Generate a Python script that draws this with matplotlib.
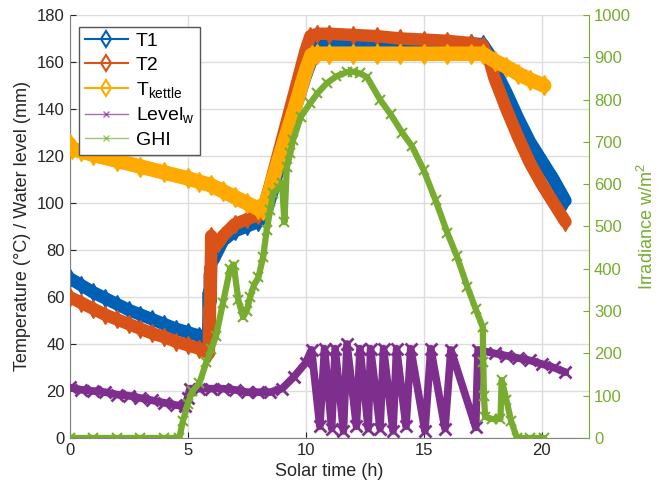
import numpy as np
import matplotlib
matplotlib.use("Agg")
import matplotlib.pyplot as plt
from matplotlib.lines import Line2D

plt.rcParams['font.family'] = ['Liberation Sans', 'DejaVu Sans']
plt.rcParams['mathtext.default'] = 'regular'

# T1 (blue)
t1_time = [0, 0.5, 1, 1.5, 2, 2.5, 3, 3.5, 4, 4.5, 5, 5.5, 5.85, 5.88, 5.9, 5.92, 5.95, 5.97,
           6.0, 6.1, 6.3, 6.5, 7.0, 7.5, 8.0, 8.3, 8.6, 9.0, 9.5, 10.0, 10.3, 10.5, 11, 12, 13,
           14, 15, 16, 17, 17.5, 17.8, 18.0, 18.5, 19.0, 19.5, 20.0, 20.5, 21.0]
t1_vals = [68, 65, 62, 59.5, 57, 54.5, 52.5, 50.5, 48.5, 46.5, 45, 43.5, 42, 48, 62, 52, 70, 58,
           78, 76, 80, 84, 88, 90, 92, 95, 105, 120, 138, 154, 162, 167.5, 168, 168, 168,
           168, 168, 168, 168, 167.5, 163, 157, 147, 136, 126, 118, 110, 101]

# T2 (orange-red)
t2_time = [0, 0.5, 1, 1.5, 2, 2.5, 3, 3.5, 4, 4.5, 5, 5.5, 5.9, 5.92, 5.94, 5.96, 5.98,
           6.0, 6.1, 6.3, 6.5, 7.0, 7.5, 8.0, 8.2, 8.5, 9.0, 9.5, 10.0, 10.2, 10.5, 11, 12,
           13, 14, 15, 16, 17, 17.5, 17.8, 18.0, 18.5, 19.0, 19.5, 20.0, 20.5, 21.0]
t2_vals = [60, 57.5, 55, 52.5, 50.5, 48.5, 46.5, 44.5, 43, 41, 39.5, 38, 36, 55, 45, 72, 60,
           86, 82, 83, 86, 91, 93, 95, 97, 108, 127, 146, 165, 171, 172, 172, 171.5,
           171, 170, 169.5, 169, 168, 167, 160, 153, 140, 128, 117, 108, 100, 92]

# T kettle (yellow)
tk_time = [0, 0.1, 0.5, 1, 2, 3, 4, 5, 5.5, 6.0, 6.5, 7.0, 7.5, 8.0, 8.2, 8.5, 9.0, 9.5,
           10.0, 10.25, 10.5, 11, 12, 13, 14, 15, 16, 17, 17.5, 18, 18.5, 19, 19.5, 20.1]
tk_vals = [125, 123, 122, 120.5, 118, 115.5, 113, 110.5, 109, 107.5, 105, 102.5, 100, 97.5,
           97, 106, 123, 139, 156, 163, 163.5, 163.5, 163.5, 163.5, 163.5, 163.5, 163.5,
           163.5, 163.5, 160.5, 158, 155, 152.5, 150]

# Water level (purple)
lv_time = [0, 0.5, 1, 1.5, 2, 2.5, 3, 3.5, 4, 4.5, 4.9, 5.0, 5.1, 5.5, 6, 6.5, 7, 7.5, 8, 8.5,
           9, 9.5, 10, 10.25, 10.6, 10.8, 11.1, 11.25, 11.6, 11.75, 12.15, 12.3, 12.65, 12.75,
           13.15, 13.3, 13.7, 13.85, 14.25, 14.45, 15.05, 15.3, 15.9, 16.15, 17.2, 17.3,
           18, 18.5, 19, 19.5, 20, 20.5, 21]
lv_vals = [21.5, 20.5, 20, 19.5, 18.5, 18, 17, 16, 15, 14, 13.5, 17, 21, 21, 21, 21, 20.5,
           19.5, 19.5, 19.5, 21, 26, 32, 37.5, 5, 38, 4, 38, 3, 40, 5, 38, 4, 38,
           4, 38, 3, 38, 5, 38, 3, 38, 4, 37.5, 4.5, 37.5,
           36, 35, 34, 33, 31.5, 30, 28]

# GHI (green, right axis)
ghi_time = [0, 1, 2, 3, 4, 4.65, 4.8, 5.0, 5.2, 5.5, 5.8, 6.0, 6.2, 6.5, 6.8, 6.95, 7.15,
            7.35, 7.5, 7.65, 7.8, 8.0, 8.2, 8.35, 8.5, 8.63, 8.85, 9.0, 9.1, 9.2, 9.35, 9.47,
            9.8, 10.2, 10.5, 10.9, 11.3, 11.75, 12.0, 12.3, 12.6, 13.15, 13.6, 14.1, 14.5,
            15.0, 15.5, 16.0, 16.4, 16.85, 17.2, 17.5, 17.52, 17.55, 17.6, 17.9, 18.25,
            18.3, 18.5, 18.7, 18.95, 19.5, 20.1]
ghi_vals = [0, 0, 0, 0, 0, 0, 40, 80, 110, 130, 180, 210, 240, 320, 400, 410, 326,
            286, 300, 333, 360, 380, 428, 492, 540, 579, 590, 603, 510, 640, 673, 705,
            760, 792, 815, 839, 855, 865, 866, 862, 853, 800, 765, 721, 690,
            633, 562, 485, 430, 357, 305, 262, 180, 100, 50, 45, 45,
            137, 90, 40, 0, 0, 0]

c_t1 = '#0060B5'
c_t2 = '#D95319'
c_tk = '#FFAA00'
c_lv = '#7E2F8E'
c_ghi = '#77AC30'
dark = '#262626'

fig = plt.figure(figsize=(6.64, 4.88), dpi=100)
ax = fig.add_axes([0.1047, 0.1025, 0.7824, 0.8668])

ax.plot(t1_time, t1_vals, color=c_t1, lw=9, solid_joinstyle='round', solid_capstyle='round',
        marker='d', ms=9, mew=1, zorder=2)
ax.plot(t2_time, t2_vals, color=c_t2, lw=9, solid_joinstyle='round', solid_capstyle='round',
        marker='d', ms=9, mew=1, zorder=3)
ax.plot(tk_time, tk_vals, color=c_tk, lw=10.5, solid_joinstyle='round', solid_capstyle='round',
        marker='d', ms=10, mew=1, zorder=4)
ax.plot(lv_time, lv_vals, color=c_lv, lw=5.5, solid_joinstyle='round', solid_capstyle='round',
        marker='x', ms=8, mew=2, zorder=5)

ax.set_xlim(0, 22)
ax.set_ylim(0, 180)
ax.set_xticks([0, 5, 10, 15, 20])
ax.set_yticks(np.arange(0, 181, 20))
ax.grid(True, color='#dcdcdc', lw=1)
ax.set_axisbelow(True)
ax.tick_params(direction='in', length=4, labelsize=12, colors=dark)
ax.set_xlabel('Solar time (h)', fontsize=13, color=dark)
ax.set_ylabel('Temperature (°C) / Water level (mm)', fontsize=13, color=dark)
for s in ['left', 'bottom']:
    ax.spines[s].set_color('#808080')
ax.spines['top'].set_visible(False)
ax.spines['right'].set_visible(False)

ax2 = ax.twinx()
ax2.plot(ghi_time, ghi_vals, color=c_ghi, lw=4.5, solid_joinstyle='round', solid_capstyle='round',
         marker='x', ms=7, mew=1.5, zorder=6)
ax2.set_ylim(0, 1000)
ax2.set_yticks(np.arange(0, 1001, 100))
ax2.tick_params(direction='in', length=4, labelsize=12, colors=c_ghi)
ax2.set_ylabel('Irradiance w/m$^2$', fontsize=13, color=c_ghi)
ax2.spines['right'].set_color(c_ghi)
ax2.spines['top'].set_visible(False)
ax2.spines['left'].set_visible(False)
ax2.spines['bottom'].set_visible(False)

handles = [
    Line2D([], [], color=c_t1, marker='d', mfc='none', ms=8, mew=1.5, lw=1.5),
    Line2D([], [], color=c_t2, marker='d', mfc='none', ms=8, mew=1.5, lw=1.5),
    Line2D([], [], color=c_tk, marker='d', mfc='none', ms=8, mew=1.5, lw=1.5),
    Line2D([], [], color=c_lv, marker='x', ms=5, mew=1, lw=1, alpha=0.7),
    Line2D([], [], color=c_ghi, marker='x', ms=5, mew=1, lw=1, alpha=0.7),
]
labels = ['T1', 'T2', 'T$_{kettle}$', 'Level$_w$', 'GHI']
leg = ax2.legend(handles, labels, loc='upper left', bbox_to_anchor=(0.0, 0.995),
                 fontsize=14, fancybox=False, framealpha=1, edgecolor='#555555',
                 handlelength=2.2, borderpad=0.3, labelspacing=0.3, handletextpad=0.4)
leg.get_frame().set_linewidth(1)

fig.savefig('out.png', dpi=100)
